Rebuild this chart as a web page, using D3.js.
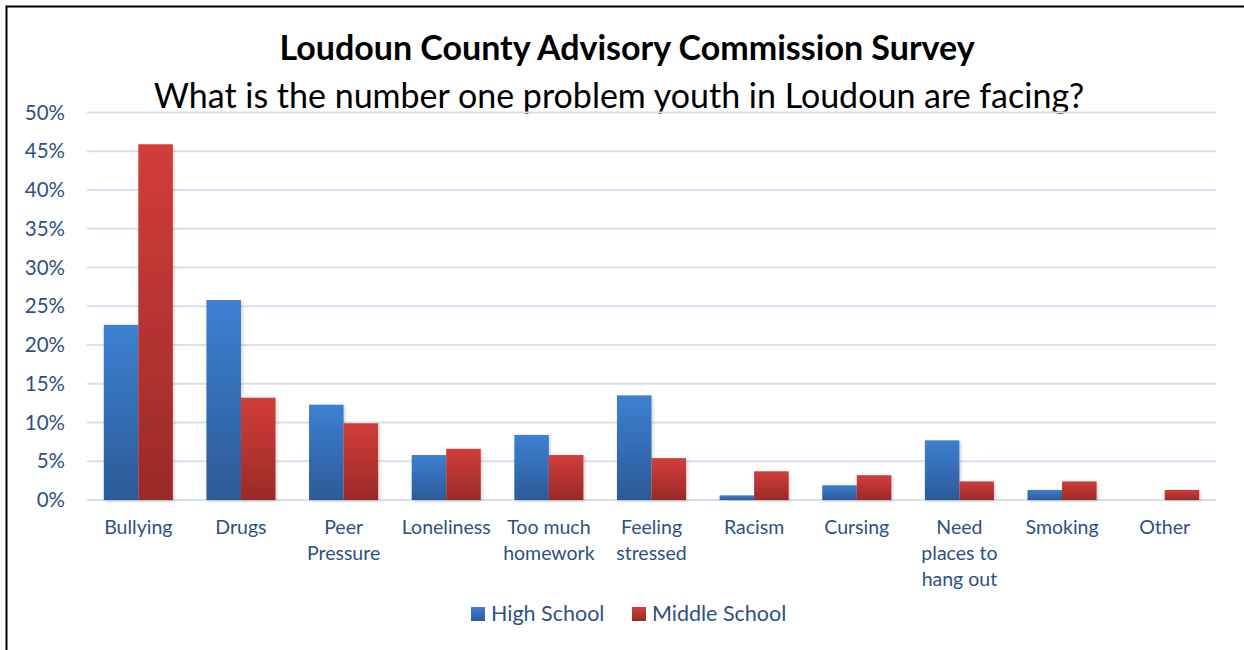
<!DOCTYPE html>
<html>
<head>
<meta charset="utf-8">
<script src="https://cdn.jsdelivr.net/npm/d3@7"></script>
<style>
  body { margin: 0; background: #fff; }
  svg { display: block; font-family: Lato, "Open Sans", sans-serif; }
</style>
</head>
<body>
<div id="chart"></div>
<script>
// Data
const categories = ["Bullying", "Drugs", "Peer\nPressure", "Loneliness", "Too much\nhomework",
  "Feeling\nstressed", "Racism", "Cursing", "Need\nplaces to\nhang out", "Smoking", "Other"];
const series = ["High School", "Middle School"];
const highSchool = [22.6, 25.8, 12.3, 5.8, 8.4, 13.5, 0.6, 1.9, 7.7, 1.3, 0];
const middleSchool = [45.9, 13.2, 9.9, 6.6, 5.8, 5.4, 3.7, 3.2, 2.4, 2.4, 1.3];
const yTicks = [0, 5, 10, 15, 20, 25, 30, 35, 40, 45, 50];

const W = 1244, H = 650;
const margin = { top: 112.5, right: 28, bottom: 150, left: 87 };
const width = W - margin.left - margin.right;
const height = H - margin.top - margin.bottom;

const svg = d3.select("#chart").append("svg")
  .attr("width", W).attr("height", H);

// gradients for the bars
const defs = svg.append("defs");
const grads = [["gradHS", "#3d80d2", "#2c5a97"], ["gradMS", "#d23d39", "#9a2a28"]];
grads.forEach(([id, top, bot]) => {
  const g = defs.append("linearGradient").attr("id", id)
    .attr("x1", 0).attr("y1", 0).attr("x2", 0).attr("y2", 1);
  g.append("stop").attr("offset", "0%").attr("stop-color", top);
  g.append("stop").attr("offset", "100%").attr("stop-color", bot);
});
defs.append("filter").attr("id", "shadow")
  .attr("x", "-20%").attr("y", "-5%").attr("width", "150%").attr("height", "120%")
  .append("feDropShadow")
  .attr("dx", 1.5).attr("dy", 1.5).attr("stdDeviation", 1.5)
  .attr("flood-color", "#000").attr("flood-opacity", 0.18);

// outer frame (left and top edges visible)
svg.append("rect")
  .attr("x", 6.5).attr("y", 6.5).attr("width", 1300).attr("height", 800)
  .attr("fill", "none").attr("stroke", "#000").attr("stroke-width", 2);

// titles
svg.append("text")
  .attr("x", 627).attr("y", 60)
  .attr("text-anchor", "middle")
  .attr("font-size", 34).attr("font-weight", "bold").attr("fill", "#000")
  .text("Loudoun County Advisory Commission Survey");
svg.append("text")
  .attr("x", 619).attr("y", 108)
  .attr("text-anchor", "middle")
  .attr("font-size", 34).attr("fill", "#000")
  .text("What is the number one problem youth in Loudoun are facing?");

const g = svg.append("g").attr("transform", `translate(${margin.left},${margin.top})`);

const x0 = d3.scaleBand().domain(categories).range([0, width]).paddingInner(0.327).paddingOuter(0.1635);
const x1 = d3.scaleBand().domain(series).range([0, x0.bandwidth()]);
const y = d3.scaleLinear().domain([0, 50]).range([height, 0]);

// gridlines
g.append("g").selectAll("line").data(yTicks).join("line")
  .attr("x1", 0).attr("x2", width)
  .attr("y1", d => y(d)).attr("y2", d => y(d))
  .attr("stroke", "#d5e1f1").attr("stroke-width", 2);

// y axis labels
const yAxis = g.append("g")
  .call(d3.axisLeft(y).tickValues(yTicks).tickFormat(d => d + "%").tickSize(0).tickPadding(22));
yAxis.select(".domain").remove();
yAxis.selectAll("text")
  .attr("font-family", "Lato, 'Open Sans', sans-serif")
  .attr("font-size", 20.5).attr("fill", "#2e5184");

// bars
const rows = categories.map((c, i) => ({ cat: c, vals: [highSchool[i], middleSchool[i]] }));
const groups = g.append("g").selectAll("g").data(rows).join("g")
  .attr("transform", d => `translate(${x0(d.cat)},0)`);
groups.selectAll("rect")
  .data(d => d.vals.map((v, j) => ({ s: series[j], v })))
  .join("rect")
  .attr("x", d => x1(d.s))
  .attr("y", d => y(d.v))
  .attr("width", x1.bandwidth())
  .attr("height", d => height - y(d.v))
  .attr("fill", d => d.s === "High School" ? "url(#gradHS)" : "url(#gradMS)")
  .attr("filter", "url(#shadow)");

// x axis labels
const xAxis = g.append("g").attr("transform", `translate(0,${height})`)
  .call(d3.axisBottom(x0).tickSize(0).tickFormat(""));
xAxis.select(".domain").remove();
xAxis.selectAll(".tick").append("text")
  .attr("text-anchor", "middle")
  .attr("font-family", "Lato, 'Open Sans', sans-serif")
  .attr("font-size", 19.5).attr("fill", "#2e5184")
  .each(function(d) {
    const t = d3.select(this);
    d.split("\n").forEach((line, i) => {
      t.append("tspan").attr("x", 0).attr("y", 34 + i * 26).text(line);
    });
  });

// legend
const legend = svg.append("g").attr("transform", "translate(471,607)");
const legendX = [0, 161];
series.forEach((s, i) => {
  const lg = legend.append("g").attr("transform", `translate(${legendX[i]},0)`);
  lg.append("rect").attr("width", 14).attr("height", 14)
    .attr("fill", i === 0 ? "url(#gradHS)" : "url(#gradMS)");
  lg.append("text").attr("x", 20).attr("y", 14)
    .attr("font-size", 21.5).attr("fill", "#2e5184").text(s);
});
</script>
</body>
</html>
